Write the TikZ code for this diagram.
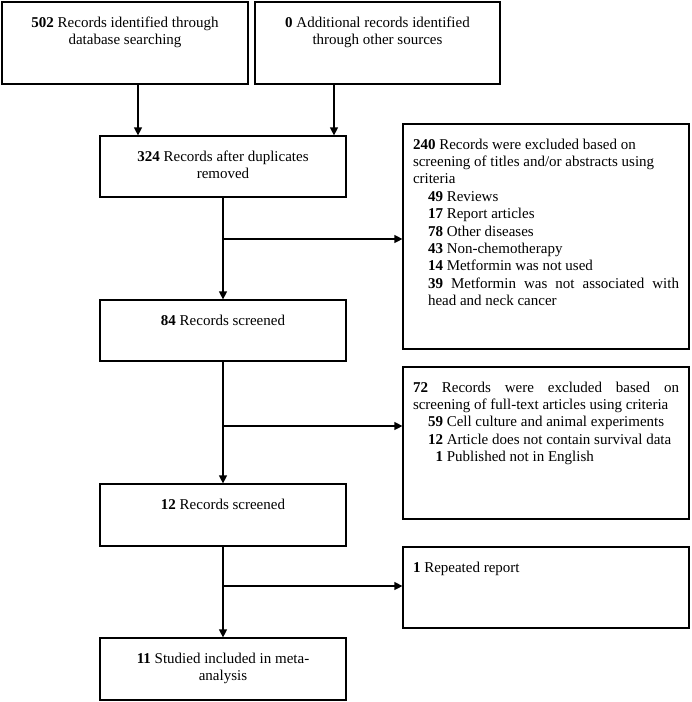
\documentclass[tikz,border=0pt]{standalone}
\usepackage{fontspec}
\setmainfont{Liberation Serif}
\usetikzlibrary{arrows.meta,positioning}

% box text: height, width, content (set at the top of the box)
\newcommand{\boxtext}[3]{\parbox[c][#1][t]{#2}{#3}}
\newcommand{\num}[1]{\hspace*{15pt}\makebox[15pt][r]{\textbf{#1}}}

\tikzset{
  flow/.style={draw, line width=1.2pt, inner xsep=0pt, inner ysep=13pt,
    font=\fontsize{15}{17.4}\selectfont},
  excl/.style={flow, inner xsep=10pt},
  arr/.style={-{Triangle[length=8pt,width=8pt]}, line width=1.2pt},
}

\begin{document}
\begin{tikzpicture}[x=1pt,y=-1pt]
  \useasboundingbox (0,0) rectangle (692,702);

  \node[flow] (dbase) at (125,43)
    {\boxtext{56pt}{246pt}{\centering\strut\textbf{502} Records identified through\\ database searching}};
  \node[flow] (other) at (377.5,43)
    {\boxtext{56pt}{245pt}{\centering\strut\textbf{0} Additional records identified\\ through other sources}};
  \node[flow] (dup) at (223,166.5)
    {\boxtext{35pt}{246pt}{\centering\strut\textbf{324} Records after duplicates\\ removed}};
  \node[flow] (screen1) at (223,330.5)
    {\boxtext{35pt}{246pt}{\centering\strut\textbf{84} Records screened}};
  \node[flow] (screen2) at (223,515)
    {\boxtext{36pt}{246pt}{\centering\strut\textbf{12} Records screened}};
  \node[flow] (incl) at (223,669)
    {\boxtext{36pt}{246pt}{\centering\strut\textbf{11} Studied included in meta-\\ analysis}};

  \node[excl] (excl1) at (546,236.5)
    {\boxtext{199pt}{266pt}{\raggedright\strut\textbf{240} Records were excluded based on\\
      screening of titles and/or abstracts using\\
      criteria\\
      \num{49} Reviews\\
      \num{17} Report articles\\
      \num{78} Other diseases\\
      \num{43} Non-chemotherapy\\
      \num{14} Metformin was not used\\
      \hspace*{15pt}\makebox[251pt][s]{\textbf{39} Metformin was not associated with}\\
      \hspace*{15pt}head and neck cancer}};
  \node[excl] (excl2) at (546,443)
    {\boxtext{126pt}{266pt}{\raggedright\strut\makebox[266pt][s]{\textbf{72} Records were excluded based on}\\
      screening of full-text articles using criteria\\
      \num{59} Cell culture and animal experiments\\
      \num{12} Article does not contain survival data\\
      \num{1} Published not in English}};
  \node[excl] (excl3) at (546,587.5)
    {\boxtext{55pt}{266pt}{\raggedright\strut\textbf{1} Repeated report}};

  % main flow
  \draw[arr] ([xshift=13pt]dbase.south) -- ([xshift=13pt]dbase.south |- dup.north);
  \draw[arr] ([xshift=-43.5pt]other.south) -- ([xshift=-43.5pt]other.south |- dup.north);
  \draw[arr] (dup) -- (screen1);
  \draw[arr] (screen1) -- (screen2);
  \draw[arr] (screen2) -- (incl);

  % exclusions
  \coordinate (j1) at (dup.south |- 0,239);
  \coordinate (j2) at (screen1.south |- 0,426);
  \coordinate (j3) at (screen2.south |- 0,586);
  \draw[arr] (j1) -- (j1 -| excl1.west);
  \draw[arr] (j2) -- (j2 -| excl2.west);
  \draw[arr] (j3) -- (j3 -| excl3.west);
\end{tikzpicture}
\end{document}
